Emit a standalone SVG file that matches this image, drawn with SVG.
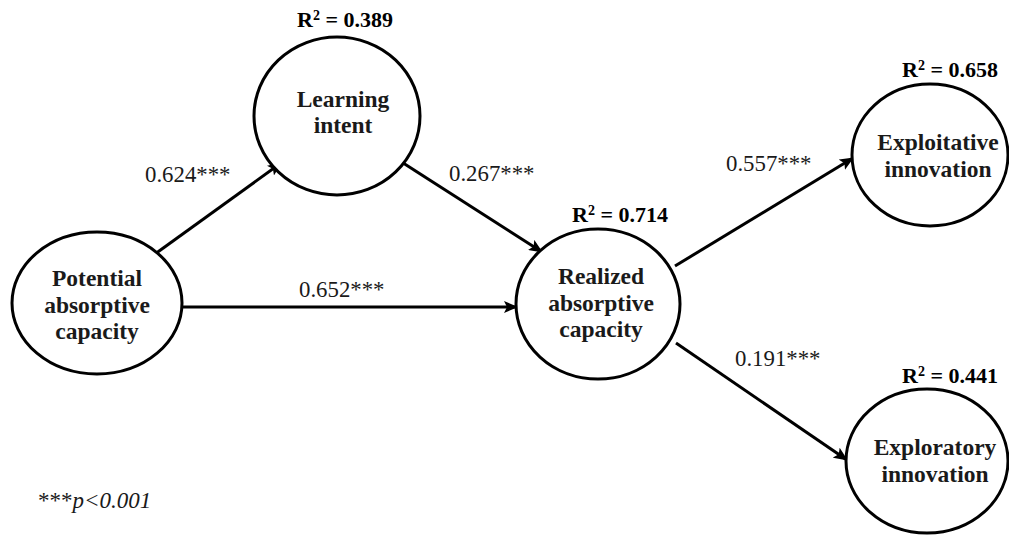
<svg xmlns="http://www.w3.org/2000/svg" width="1009" height="536" viewBox="0 0 1009 536">
<defs>
<marker id="ah" markerUnits="userSpaceOnUse" markerWidth="14" markerHeight="12" refX="13" refY="6" orient="auto">
<path d="M0,0 L14,6 L0,12 L3,6 z" fill="#000"/>
</marker>
<style>
.node{fill:#fff;stroke:#000;stroke-width:3}
.lbl{font-family:"Liberation Serif","Times New Roman",serif;font-weight:bold;font-size:23.5px;text-anchor:middle;fill:#1a1a1a}
.r2{font-family:"Liberation Serif","Times New Roman",serif;font-weight:bold;font-size:22px;text-anchor:middle;fill:#000}
.coef{font-family:"Liberation Serif","Times New Roman",serif;font-size:22.8px;fill:#1a1a1a}
.edge{stroke:#000;stroke-width:3;fill:none;marker-end:url(#ah)}
.sup{font-size:14px}
</style>
</defs>
<rect width="1009" height="536" fill="#fff"/>
<g id="connectors">
<line class="edge" x1="155" y1="254" x2="281" y2="163"/>
<line class="edge" x1="400" y1="161" x2="542" y2="252"/>
<line class="edge" x1="182" y1="307" x2="517" y2="307"/>
<line class="edge" x1="675" y1="266" x2="853" y2="158"/>
<line class="edge" x1="676" y1="343" x2="847" y2="460"/>
<text class="coef" x="145" y="182">0.624***</text>
<text class="coef" x="449" y="181">0.267***</text>
<text class="coef" x="299" y="297">0.652***</text>
<text class="coef" x="726" y="171">0.557***</text>
<text class="coef" x="735" y="366">0.191***</text>
</g>
<g id="potential">
<ellipse class="node" cx="97" cy="303" rx="85" ry="71"/>
<text class="lbl" x="97" y="286">Potential</text>
<text class="lbl" x="97" y="313">absorptive</text>
<text class="lbl" x="97" y="339">capacity</text>
</g>
<g id="learning">
<ellipse class="node" cx="337" cy="116" rx="83" ry="79"/>
<text class="r2" x="345" y="27">R<tspan class="sup" dy="-7">2</tspan><tspan dy="7"> = 0.389</tspan></text>
<text class="lbl" x="343" y="107">Learning</text>
<text class="lbl" x="343" y="133">intent</text>
</g>
<g id="realized">
<ellipse class="node" cx="598" cy="304" rx="82" ry="75"/>
<text class="r2" x="620" y="222">R<tspan class="sup" dy="-7">2</tspan><tspan dy="7"> = 0.714</tspan></text>
<text class="lbl" x="601" y="284">Realized</text>
<text class="lbl" x="601" y="311">absorptive</text>
<text class="lbl" x="601" y="337">capacity</text>
</g>
<g id="exploitative">
<ellipse class="node" cx="930" cy="155" rx="78" ry="71"/>
<text class="r2" x="950" y="77">R<tspan class="sup" dy="-7">2</tspan><tspan dy="7"> = 0.658</tspan></text>
<text class="lbl" x="938" y="150">Exploitative</text>
<text class="lbl" x="938" y="177">innovation</text>
</g>
<g id="exploratory">
<ellipse class="node" cx="927" cy="461" rx="81" ry="72"/>
<text class="r2" x="950" y="383">R<tspan class="sup" dy="-7">2</tspan><tspan dy="7"> = 0.441</tspan></text>
<text class="lbl" x="935" y="455">Exploratory</text>
<text class="lbl" x="935" y="482">innovation</text>
</g>
<g id="note">
<text class="coef" x="38" y="508" style="font-size:23px">***<tspan font-style="italic">p&lt;0.001</tspan></text>
</g>
</svg>
